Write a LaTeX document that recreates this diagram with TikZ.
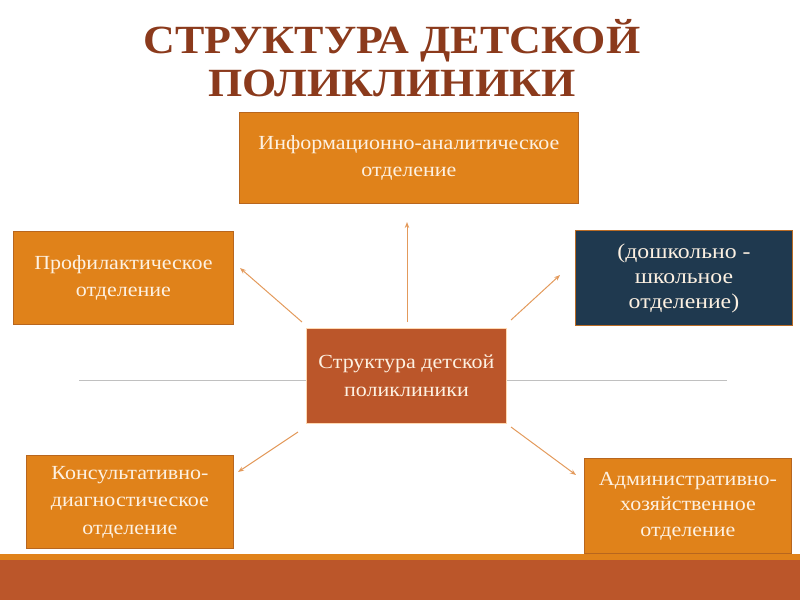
\documentclass[tikz,border=0pt]{standalone}
\usepackage{fontspec}
\setmainfont{Liberation Serif}
\newfontfamily\wideserif{Liberation Serif}[FakeStretch=1.1]
\newfontfamily\widerserif{Liberation Serif}[FakeStretch=1.13]
\usetikzlibrary{arrows.meta}
\definecolor{org}{HTML}{E0821A}
\definecolor{orgb}{HTML}{B8661E}
\definecolor{brn}{HTML}{BB562A}
\definecolor{navy}{HTML}{1F394F}
\definecolor{ttl}{HTML}{8B3A1C}
\definecolor{txt}{HTML}{FDF1E2}
\definecolor{arr}{HTML}{E39A5C}
\definecolor{gln}{HTML}{C0C0C0}
\tikzset{
  box/.style={draw=orgb, line width=0.9pt, fill=org, text=txt, align=center,
    font=\wideserif\fontsize{20}{27.5}\selectfont, inner sep=0pt, anchor=north west},
  conn/.style={draw=arr, line width=1pt, -{Stealth[length=6pt,width=4.5pt]}}
}
\begin{document}
\begin{tikzpicture}[x=1pt,y=-1pt]
\useasboundingbox (0,0) rectangle (800,600);
% bottom band
\fill[brn] (0,560) rectangle (800,600);
\fill[org] (0,554) rectangle (800,560);
% gray line
\draw[gln, line width=1pt] (79,380) -- (727,380);
% title
\node[text=ttl, font=\wideserif\fontsize{40}{43}\selectfont\bfseries, align=center] (title) at (392,58) {СТРУКТУРА ДЕТСКОЙ\\ПОЛИКЛИНИКИ};
% boxes
\node[box, minimum width=339pt, minimum height=91pt] (info) at (239,112) {Информационно-аналитическое\\отделение};
\node[box, minimum width=220pt, minimum height=93pt] (prof) at (13,231) {Профилактическое\\отделение};
\node[box, fill=navy, draw=orgb!80!brown, minimum width=217pt, minimum height=95pt,
  font=\widerserif\fontsize{21}{25}\selectfont] (dosh) at (575,230) {(дошкольно -\\школьное\\отделение)};
\node[box, fill=brn, draw=orange!30!white, minimum width=200pt, minimum height=95pt] (cent) at (306,328) {Структура детской\\поликлиники};
\node[box, minimum width=207pt, minimum height=93pt] (kons) at (26,455) {Консультативно-\\диагностическое\\отделение};
\node[box, minimum width=207pt, minimum height=95pt, font=\wideserif\fontsize{20}{25.5}\selectfont] (adm) at (584,458) {Административно-\\хозяйственное\\отделение};
% connector endpoints
\coordinate (a1) at (407,322); \coordinate (b1) at (407,222);
\coordinate (a2) at (302,322); \coordinate (b2) at (240,268);
\coordinate (a3) at (511,320); \coordinate (b3) at (560,275);
\coordinate (a4) at (298,432); \coordinate (b4) at (238,472);
\coordinate (a5) at (511,427); \coordinate (b5) at (576,475);
\draw[conn] (a1) -- (b1);
\draw[conn] (a2) -- (b2);
\draw[conn] (a3) -- (b3);
\draw[conn] (a4) -- (b4);
\draw[conn] (a5) -- (b5);
\end{tikzpicture}
\end{document}
